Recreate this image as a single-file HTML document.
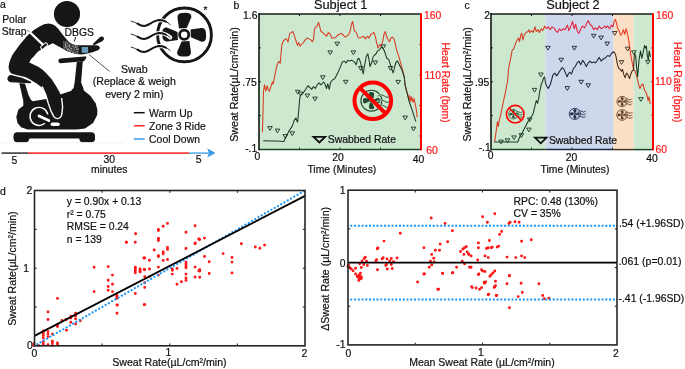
<!DOCTYPE html>
<html><head><meta charset="utf-8"><style>
html,body{margin:0;padding:0;background:#fff;}
svg{display:block;will-change:transform;}
.t{font-family:"Liberation Sans",sans-serif;font-size:10.4px;fill:#111;stroke:#111;stroke-width:0.2px;}
.r{font-family:"Liberation Sans",sans-serif;font-size:10.4px;fill:#ff1a1a;stroke:#ff1a1a;stroke-width:0.2px;}
</style></head><body>
<svg width="685" height="369" viewBox="0 0 685 369">
<defs>
<pattern id="spk" width="10" height="10" patternUnits="userSpaceOnUse"><rect width="10" height="10" fill="#3c3c3c"/><rect x="2.4" y="5.4" width="0.8" height="0.8" fill="#bbbbbb"/><rect x="9.2" y="4.7" width="0.8" height="0.8" fill="#999"/><rect x="0.7" y="0.1" width="0.8" height="0.8" fill="#f4f4f4"/><rect x="2.6" y="2.3" width="0.8" height="0.8" fill="#f4f4f4"/><rect x="5.4" y="5.5" width="0.8" height="0.8" fill="#f4f4f4"/><rect x="6.4" y="1.5" width="0.8" height="0.8" fill="#cfcfcf"/><rect x="8.7" y="5.2" width="0.8" height="0.8" fill="#e8e8e8"/><rect x="6.7" y="0.6" width="0.8" height="0.8" fill="#999"/><rect x="0.4" y="7.8" width="0.8" height="0.8" fill="#bbbbbb"/><rect x="4.7" y="7.2" width="0.8" height="0.8" fill="#f4f4f4"/><rect x="7.1" y="9.2" width="0.8" height="0.8" fill="#f4f4f4"/><rect x="7.3" y="5.8" width="0.8" height="0.8" fill="#cfcfcf"/><rect x="8.8" y="1.0" width="0.8" height="0.8" fill="#cfcfcf"/><rect x="4.9" y="2.6" width="0.8" height="0.8" fill="#f4f4f4"/><rect x="7.8" y="8.6" width="0.8" height="0.8" fill="#f4f4f4"/><rect x="5.1" y="3.9" width="0.8" height="0.8" fill="#bbbbbb"/><rect x="5.3" y="4.1" width="0.8" height="0.8" fill="#cfcfcf"/><rect x="9.0" y="6.8" width="0.8" height="0.8" fill="#e8e8e8"/><rect x="8.6" y="9.9" width="0.8" height="0.8" fill="#cfcfcf"/><rect x="7.0" y="3.3" width="0.8" height="0.8" fill="#999"/><rect x="9.0" y="5.7" width="0.8" height="0.8" fill="#cfcfcf"/><rect x="6.3" y="9.9" width="0.8" height="0.8" fill="#bbbbbb"/><rect x="2.8" y="0.6" width="0.8" height="0.8" fill="#f4f4f4"/><rect x="0.9" y="8.0" width="0.8" height="0.8" fill="#f4f4f4"/><rect x="9.0" y="0.2" width="0.8" height="0.8" fill="#f4f4f4"/><rect x="7.7" y="8.7" width="0.8" height="0.8" fill="#e8e8e8"/><rect x="6.0" y="7.6" width="0.8" height="0.8" fill="#f4f4f4"/><rect x="7.2" y="3.3" width="0.8" height="0.8" fill="#bbbbbb"/><rect x="5.1" y="10.0" width="0.8" height="0.8" fill="#bbbbbb"/><rect x="0.1" y="1.1" width="0.8" height="0.8" fill="#999"/><rect x="0.3" y="2.0" width="0.8" height="0.8" fill="#f4f4f4"/><rect x="2.9" y="2.6" width="0.8" height="0.8" fill="#e8e8e8"/><rect x="9.8" y="3.4" width="0.8" height="0.8" fill="#bbbbbb"/><rect x="9.6" y="9.0" width="0.8" height="0.8" fill="#f4f4f4"/><rect x="3.8" y="8.7" width="0.8" height="0.8" fill="#f4f4f4"/><rect x="6.4" y="6.0" width="0.8" height="0.8" fill="#999"/><rect x="1.0" y="9.7" width="0.8" height="0.8" fill="#999"/><rect x="2.7" y="6.3" width="0.8" height="0.8" fill="#cfcfcf"/><rect x="9.4" y="4.4" width="0.8" height="0.8" fill="#bbbbbb"/><rect x="5.2" y="5.5" width="0.8" height="0.8" fill="#e8e8e8"/></pattern>
<mask id="fanmask" maskUnits="userSpaceOnUse" x="-60" y="-40" width="100" height="80"><rect x="-60" y="-40" width="100" height="80" fill="#fff"/><path d="M-53.3,-13.8 C-48.5,-12.9 -44.5,-8.9 -40.3,-8.9 C-35.5,-8.9 -31.5,-14.9 -24.8,-14.9 C-20.5,-14.7 -17.0,-12.9 -14.3,-10.3 M-53.3,-0.8 C-48.5,0.1 -44.5,4.1 -40.3,4.1 C-35.5,4.1 -31.5,-1.9 -24.8,-1.9 C-20.5,-1.7 -17.0,0.1 -14.3,2.7 M-53.3,12.2 C-48.5,13.1 -44.5,17.1 -40.3,17.1 C-35.5,17.1 -31.5,11.1 -24.8,11.1 C-20.5,11.3 -17.0,13.1 -14.3,15.7" stroke="#000" stroke-width="4.2" fill="none" stroke-linecap="round"/></mask>
<g id="fanG">
<g mask="url(#fanmask)">
<circle r="26.9" fill="none" stroke="currentColor" stroke-width="2.9"/>
<g transform="translate(-0.3 -0.2)" fill="currentColor">
<path d="M-5.2,-6.3 L-6.7,-16.8 Q-7.1,-21.2 -2.6,-21.7 L2.6,-21.9 Q7.4,-21.6 7.1,-17.4 L2.6,-6.7 Z"/><path d="M-5.2,-6.3 L-6.7,-16.8 Q-7.1,-21.2 -2.6,-21.7 L2.6,-21.9 Q7.4,-21.6 7.1,-17.4 L2.6,-6.7 Z" transform="rotate(90)"/><path d="M-5.2,-6.3 L-6.7,-16.8 Q-7.1,-21.2 -2.6,-21.7 L2.6,-21.9 Q7.4,-21.6 7.1,-17.4 L2.6,-6.7 Z" transform="rotate(180)"/><path d="M-5.2,-6.3 L-6.7,-16.8 Q-7.1,-21.2 -2.6,-21.7 L2.6,-21.9 Q7.4,-21.6 7.1,-17.4 L2.6,-6.7 Z" transform="rotate(270)"/>
<circle r="4.6" fill="none" stroke="currentColor" stroke-width="2.8"/>
</g>
</g>
<path d="M-53.3,-13.8 C-48.5,-12.9 -44.5,-8.9 -40.3,-8.9 C-35.5,-8.9 -31.5,-14.9 -24.8,-14.9 C-20.5,-14.7 -17.0,-12.9 -14.3,-10.3 M-53.3,-0.8 C-48.5,0.1 -44.5,4.1 -40.3,4.1 C-35.5,4.1 -31.5,-1.9 -24.8,-1.9 C-20.5,-1.7 -17.0,0.1 -14.3,2.7 M-53.3,12.2 C-48.5,13.1 -44.5,17.1 -40.3,17.1 C-35.5,17.1 -31.5,11.1 -24.8,11.1 C-20.5,11.3 -17.0,13.1 -14.3,15.7" fill="none" stroke="currentColor" stroke-width="0.9" stroke-linecap="round"/>
<path d="M-47.0,-11.3 C-44.0,-9.3 -42.5,-8.9 -40.3,-8.9 C-35.5,-8.9 -31.5,-14.9 -24.8,-14.9 C-22.0,-14.8 -20.0,-14.1 -18.5,-13.1 M-47.0,1.7 C-44.0,3.7 -42.5,4.1 -40.3,4.1 C-35.5,4.1 -31.5,-1.9 -24.8,-1.9 C-22.0,-1.8 -20.0,-1.1 -18.5,-0.1 M-47.0,14.7 C-44.0,16.7 -42.5,17.1 -40.3,17.1 C-35.5,17.1 -31.5,11.1 -24.8,11.1 C-22.0,11.2 -20.0,11.9 -18.5,12.9" fill="none" stroke="currentColor" stroke-width="1.9" stroke-linecap="round"/>
</g>
<g id="fanS">
<g mask="url(#fanmask)">
<circle r="26.9" fill="none" stroke="currentColor" stroke-width="4.2"/>
<g transform="translate(-0.3 -0.2)" fill="currentColor">
<path stroke="currentColor" stroke-width="1.2" d="M-5.2,-6.3 L-6.7,-16.8 Q-7.1,-21.2 -2.6,-21.7 L2.6,-21.9 Q7.4,-21.6 7.1,-17.4 L2.6,-6.7 Z"/><path stroke="currentColor" stroke-width="1.2" d="M-5.2,-6.3 L-6.7,-16.8 Q-7.1,-21.2 -2.6,-21.7 L2.6,-21.9 Q7.4,-21.6 7.1,-17.4 L2.6,-6.7 Z" transform="rotate(90)"/><path stroke="currentColor" stroke-width="1.2" d="M-5.2,-6.3 L-6.7,-16.8 Q-7.1,-21.2 -2.6,-21.7 L2.6,-21.9 Q7.4,-21.6 7.1,-17.4 L2.6,-6.7 Z" transform="rotate(180)"/><path stroke="currentColor" stroke-width="1.2" d="M-5.2,-6.3 L-6.7,-16.8 Q-7.1,-21.2 -2.6,-21.7 L2.6,-21.9 Q7.4,-21.6 7.1,-17.4 L2.6,-6.7 Z" transform="rotate(270)"/>
<circle r="4.6" fill="none" stroke="currentColor" stroke-width="4"/>
</g>
</g>
<path d="M-53.3,-13.8 C-48.5,-12.9 -44.5,-8.9 -40.3,-8.9 C-35.5,-8.9 -31.5,-14.9 -24.8,-14.9 C-20.5,-14.7 -17.0,-12.9 -14.3,-10.3 M-53.3,-0.8 C-48.5,0.1 -44.5,4.1 -40.3,4.1 C-35.5,4.1 -31.5,-1.9 -24.8,-1.9 C-20.5,-1.7 -17.0,0.1 -14.3,2.7 M-53.3,12.2 C-48.5,13.1 -44.5,17.1 -40.3,17.1 C-35.5,17.1 -31.5,11.1 -24.8,11.1 C-20.5,11.3 -17.0,13.1 -14.3,15.7" fill="none" stroke="currentColor" stroke-width="2" stroke-linecap="round"/>
<path d="M-47.0,-11.3 C-44.0,-9.3 -42.5,-8.9 -40.3,-8.9 C-35.5,-8.9 -31.5,-14.9 -24.8,-14.9 C-22.0,-14.8 -20.0,-14.1 -18.5,-13.1 M-47.0,1.7 C-44.0,3.7 -42.5,4.1 -40.3,4.1 C-35.5,4.1 -31.5,-1.9 -24.8,-1.9 C-22.0,-1.8 -20.0,-1.1 -18.5,-0.1 M-47.0,14.7 C-44.0,16.7 -42.5,17.1 -40.3,17.1 C-35.5,17.1 -31.5,11.1 -24.8,11.1 C-22.0,11.2 -20.0,11.9 -18.5,12.9" fill="none" stroke="currentColor" stroke-width="3" stroke-linecap="round"/>
</g>
</defs>
<rect width="685" height="369" fill="#fff"/>
<!-- PANEL A -->
<text x="0" y="7.6" class="t">a</text>
<text x="2.2" y="23" class="t">Polar</text>
<text x="1.8" y="34.7" class="t">Strap</text>
<text x="64.6" y="35.7" class="t">DBGS</text>
<line x1="75.7" y1="37" x2="74.3" y2="41.6" stroke="#222" stroke-width="1"/>
<!-- head -->
<circle cx="67" cy="14.1" r="13.1" fill="#161616"/>
<!-- housing (flywheel) -->
<path fill="#161616" d="M19,82 L24.5,82 L28.5,95 L31,100 L33,101.3 L46,99.1 L61,94.2 L70.8,91 L73.6,88 L74.6,82.6 L76.8,62 L82.8,61 L81.1,82.6 L83.3,88 L83.8,90.4 L90.4,95.8 L95.8,103.4 L97.4,110 L97.2,115 L93.1,123.1 L85,128.4 L76.8,129.6 L27.6,129.6 L21.1,127.2 L17.5,123.1 L16.3,117.1 L18.4,109.5 L23.3,105.7 L23.3,100.8 Z"/>
<!-- handlebar horizontal bar -->
<path fill="#161616" d="M60.5,58.4 L84.5,56.4 Q87,56 86.2,58 L84,61.2 L60.5,63.2 Q58.3,63.2 58.3,60.8 Q58.3,58.5 60.5,58.4 Z"/>
<!-- grip -->
<path fill="#161616" d="M92.6,44.2 L99.5,37.4 Q102,35.5 103.8,37.5 Q104.8,39.5 102.2,41.2 L94,45.2 Z"/>
<!-- seat -->
<path fill="#161616" stroke="#fff" stroke-width="1.1" paint-order="stroke" d="M8.5,76.2 Q9.5,74.6 12,75.2 L22,77.8 L31.5,82 L30.5,83.2 L11,82.2 Q7.2,81.6 7.4,78.6 Q7.6,77.2 8.5,76.2 Z"/>
<!-- body: torso + leg -->
<path fill="#161616" d="M48.4,23.6 Q44,23.6 40,26.2 Q33,29.5 27,36 Q19,45 13,54 Q9,61 8.6,67 Q8.8,72 12,73.8 Q16,75 21,76 L25,77 Q29,78.5 32.5,81 Q38,84 41.9,87.5 L44.3,91.5 L46,95.5 L48.3,103.4 L51,111 L53.7,116.4 Q55.5,118.6 57.5,118.4 Q60.5,118 61.6,114.6 L62.4,106.7 L61.3,97 Q60,92 56,86 Q52.5,79 46.3,73.2 Q42.5,69.4 38.7,67 L29.3,62.6 L30.5,60 Q31.8,57.6 33.3,56.9 Q37,51.5 41,49.5 L49,45 L52.8,43.3 L64.7,49.8 Q70,52.8 76,54 L81.7,54.4 Q87.6,53.8 92.5,52.2 L98,50.3 Q100.2,49 99.8,47.2 Q99,45.4 96.3,45.2 L76.3,45.2 Q71,44.5 68,41 L62.5,34.5 Q58.5,28.5 54.9,25.6 Q51.5,23.6 48.4,23.6 Z"/>
<!-- white outline of shin (left/bottom/right) -->
<path fill="none" stroke="#fff" stroke-width="1.4" d="M42.2,86.5 L44.3,91.5 L46,95.5 L48.3,103.4 L51,111 L53.7,116.4 Q55.5,118.8 57.5,118.6 Q60.8,118.2 61.8,114.6 L62.6,106.7 L61.6,98"/>
<!-- crank ring -->
<path fill="none" stroke="#fff" stroke-width="1.45" d="M47.8,114.4 A9,9 0 1 0 44.8,123.3"/>
<line x1="39" y1="116" x2="48.8" y2="120.6" stroke="#fff" stroke-width="2.8" stroke-linecap="round"/>
<rect x="50.6" y="122.4" width="9.2" height="3.6" rx="1.8" fill="#fff"/>
<!-- polar strap -->
<line x1="27" y1="30" x2="30" y2="32.6" stroke="#555" stroke-width="0.8"/>
<line x1="29.6" y1="32" x2="43.6" y2="45.4" stroke="#fff" stroke-width="2.3"/>
<rect x="40.3" y="44.4" width="7.6" height="3.2" rx="1" fill="#161616" stroke="#fff" stroke-width="1" transform="rotate(-40 44.1 46)"/>
<!-- DBGS patch -->
<path fill="url(#spk)" d="M63.5,40.5 L68,41.5 L72,44.6 L78.5,45.2 L79,54.2 L76,54 Q70,52.8 65,50.2 L63,48.6 Z"/>
<rect x="81.7" y="47" width="6.4" height="5.8" fill="#6c9cbf"/>
<line x1="89" y1="54.6" x2="109.5" y2="71.4" stroke="#222" stroke-width="0.8"/>
<!-- base -->
<path fill="#161616" d="M16.5,132.2 L92,132.2 Q95,132.6 95,136 L95,139.5 Q94.5,142.2 91.5,142.2 L82.5,142.2 Q79.5,142.2 79.3,138.6 L29.3,138.6 Q29,142.2 26,142.2 L16.5,142.2 Q13.4,142 13.4,137.2 Q13.4,132.4 16.5,132.2 Z"/>
<line x1="0" y1="142.8" x2="124" y2="142.8" stroke="#f0f0f0" stroke-width="0.8"/>
<!-- fan -->
<use href="#fanG" transform="translate(184.5 34.9)" style="color:#161616"/>
<text x="203.6" y="14.2" class="t" style="font-size:10px">*</text>
<!-- swab text -->
<g style="font-size:10.6px"><text x="134.3" y="72.9" class="t" text-anchor="middle" style="font-size:10.6px">Swab</text>
<text x="134.3" y="85.4" class="t" text-anchor="middle" style="font-size:10.6px">(Replace &amp; weigh</text>
<text x="134.3" y="98" class="t" text-anchor="middle" style="font-size:10.6px">every 2 min)</text></g>
<!-- legend -->
<line x1="133.8" y1="112.7" x2="144.7" y2="112.7" stroke="#111" stroke-width="1.5"/>
<line x1="133.8" y1="125.8" x2="144.7" y2="125.8" stroke="#ff2a2a" stroke-width="1.5"/>
<line x1="133.8" y1="139" x2="144.7" y2="139" stroke="#3b9be8" stroke-width="1.5"/>
<text x="149.1" y="116.8" class="t">Warm Up</text>
<text x="149.1" y="129.9" class="t">Zone 3 Ride</text>
<text x="149.1" y="143.1" class="t">Cool Down</text>
<!-- timeline -->
<line x1="1.5" y1="153.1" x2="28" y2="153.1" stroke="#3a3a3a" stroke-width="1.6"/>
<line x1="28" y1="153.1" x2="189" y2="153.1" stroke="#ff3b3b" stroke-width="1.6"/>
<line x1="189" y1="153.1" x2="209" y2="153.1" stroke="#5aaeea" stroke-width="1.6"/>
<path d="M215.5,152.9 L207.2,148.2 L209,152.9 L207.2,157.6 Z" fill="#3a9ae8"/>
<text x="14.3" y="163.6" class="t" text-anchor="middle">5</text>
<text x="109.3" y="163.4" class="t" text-anchor="middle">30</text>
<text x="109.3" y="172.6" class="t" text-anchor="middle">minutes</text>
<text x="198.7" y="163.2" class="t" text-anchor="middle">5</text>

<rect x="259" y="14" width="162" height="135.6" fill="#cce8cf"/>
<use href="#fanG" transform="translate(371.4 100.7) scale(-0.3887 0.3887)" style="color:#1f4a30"/>
<circle cx="372.8" cy="100.8" r="18.3" fill="none" stroke="#ff0000" stroke-width="4"/>
<line x1="359.9" y1="87.9" x2="385.7" y2="113.7" stroke="#ff0000" stroke-width="4"/>
<polyline points="262.4,132.2 262.8,120.0 263.5,91.2 264.5,84.8 265.8,91.2 267.2,85.7 268.2,89.4 269.4,91.2 270.9,86.6 272.4,82.0 273.2,84.0 275.0,74.6 277.0,65.1 278.8,61.3 280.3,63.2 281.7,45.3 283.6,40.5 286.4,38.6 288.0,42.0 289.8,33.0 291.1,33.0 292.7,31.4 294.4,35.8 295.9,40.5 297.5,45.4 298.8,42.6 300.1,46.3 301.5,44.5 303.4,42.6 305.2,39.9 307.1,38.0 308.9,38.9 310.8,39.9 312.3,41.7 313.5,39.9 314.5,28.8 315.9,26.9 317.2,26.0 318.5,22.3 319.6,26.0 320.9,31.5 322.8,32.5 324.6,34.3 326.5,36.2 328.3,32.5 330.2,34.3 332.0,38.0 333.9,38.0 335.8,37.1 337.7,35.2 339.5,34.3 341.4,33.4 343.2,35.2 345.1,37.1 346.9,36.2 348.8,34.3 350.3,30.6 351.5,24.2 352.5,21.4 353.4,25.1 354.3,30.6 356.2,32.5 358.0,37.1 359.9,38.0 361.7,37.1 363.5,36.2 365.4,38.9 367.2,36.2 369.1,38.0 370.9,34.3 372.8,33.4 373.8,32.5 375.3,36.1 376.6,42.6 378.1,48.1 379.7,44.4 381.2,46.3 382.7,41.7 384.0,34.3 385.3,31.5 386.8,37.1 388.2,39.8 389.5,41.7 391.0,38.0 392.3,37.1 394.1,38.9 395.6,45.4 396.9,50.9 398.8,56.4 400.6,62.9 402.4,69.4 404.3,76.7 404.8,82.9 406.1,89.4 408.0,94.9 408.9,100.5 409.8,95.8 410.7,101.4 411.7,96.8 413.0,102.3 414.1,98.6 415.4,105.1 416.3,109.7 417.2,117.1" fill="none" stroke="#d83a22" stroke-width="1.05" stroke-linejoin="round"/>
<polyline points="263.2,140.7 270.0,141.0 276.5,141.1 283.9,141.5 285.7,137.4 288.5,131.9 290.3,129.1 292.2,126.3 294.0,120.8 295.9,118.0 297.2,121.7 297.6,122.2 298.8,109.7 299.7,98.6 300.6,94.9 302.5,94.0 304.3,91.2 306.2,88.5 308.0,85.7 309.9,87.5 311.7,89.4 313.5,86.6 315.4,88.5 317.2,84.8 319.1,82.9 320.9,84.8 323.7,82.0 325.0,84.0 326.5,88.5 327.8,83.8 329.2,89.4 330.7,82.0 332.5,80.0 334.9,78.6 337.7,73.1 340.5,66.6 342.3,62.0 344.2,61.1 346.0,62.9 347.9,60.2 349.7,61.1 351.5,60.2 353.4,61.1 355.2,62.9 356.2,64.8 357.6,59.2 358.9,58.3 360.4,62.0 361.7,67.6 363.2,74.0 364.5,65.7 366.3,56.5 367.8,53.7 369.1,60.2 370.0,66.6 371.9,62.0 373.2,56.5 374.2,55.5 376.1,53.7 377.5,50.9 379.4,50.0 381.2,47.2 382.7,48.1 384.0,50.0 385.3,53.7 386.8,58.3 388.6,59.2 390.1,63.8 391.9,69.4 393.2,73.0 394.5,67.5 396.0,62.0 397.5,61.0 399.3,64.7 401.2,68.4 403.0,73.0 404.3,77.7 405.2,85.7 407.1,93.1 408.9,100.5 410.7,106.0 412.6,111.5 414.4,117.1 415.9,121.7" fill="none" stroke="#1b3a22" stroke-width="1.05" stroke-linejoin="round"/>
<path d="M267.7,126.6 L272.3,126.6 L270.0,130.4 Z" fill="none" stroke="#1a3320" stroke-width="0.9"/>
<path d="M275.1,129.1 L279.7,129.1 L277.4,132.9 Z" fill="none" stroke="#1a3320" stroke-width="0.9"/>
<path d="M283.0,134.6 L287.6,134.6 L285.3,138.4 Z" fill="none" stroke="#1a3320" stroke-width="0.9"/>
<path d="M289.9,131.8 L294.5,131.8 L292.2,135.6 Z" fill="none" stroke="#1a3320" stroke-width="0.9"/>
<path d="M295.4,90.3 L300.0,90.3 L297.7,94.1 Z" fill="none" stroke="#1a3320" stroke-width="0.9"/>
<path d="M298.3,92.1 L302.9,92.1 L300.6,95.9 Z" fill="none" stroke="#1a3320" stroke-width="0.9"/>
<path d="M305.1,94.0 L309.7,94.0 L307.4,97.8 Z" fill="none" stroke="#1a3320" stroke-width="0.9"/>
<path d="M312.7,97.1 L317.3,97.1 L315.0,100.9 Z" fill="none" stroke="#1a3320" stroke-width="0.9"/>
<path d="M320.5,75.8 L325.1,75.8 L322.8,79.6 Z" fill="none" stroke="#1a3320" stroke-width="0.9"/>
<path d="M327.9,50.9 L332.5,50.9 L330.2,54.7 Z" fill="none" stroke="#1a3320" stroke-width="0.9"/>
<path d="M334.9,42.2 L339.5,42.2 L337.2,46.0 Z" fill="none" stroke="#1a3320" stroke-width="0.9"/>
<path d="M343.4,80.3 L348.0,80.3 L345.7,84.1 Z" fill="none" stroke="#1a3320" stroke-width="0.9"/>
<path d="M351.1,50.9 L355.7,50.9 L353.4,54.7 Z" fill="none" stroke="#1a3320" stroke-width="0.9"/>
<path d="M358.5,66.6 L363.1,66.6 L360.8,70.4 Z" fill="none" stroke="#1a3320" stroke-width="0.9"/>
<path d="M373.0,61.0 L377.6,61.0 L375.3,64.8 Z" fill="none" stroke="#1a3320" stroke-width="0.9"/>
<path d="M381.1,44.9 L385.7,44.9 L383.4,48.7 Z" fill="none" stroke="#1a3320" stroke-width="0.9"/>
<path d="M388.2,66.5 L392.8,66.5 L390.5,70.3 Z" fill="none" stroke="#1a3320" stroke-width="0.9"/>
<path d="M395.9,80.4 L400.5,80.4 L398.2,84.2 Z" fill="none" stroke="#1a3320" stroke-width="0.9"/>
<path d="M402.9,116.1 L407.5,116.1 L405.2,119.9 Z" fill="none" stroke="#1a3320" stroke-width="0.9"/>
<path d="M411.2,127.1 L415.8,127.1 L413.5,130.9 Z" fill="none" stroke="#1a3320" stroke-width="0.9"/>
<line x1="259" y1="47.9" x2="261" y2="47.9" stroke="#1a3320" stroke-width="1"/>
<line x1="259" y1="81.75" x2="261" y2="81.75" stroke="#1a3320" stroke-width="1"/>
<line x1="259" y1="115.6" x2="261" y2="115.6" stroke="#1a3320" stroke-width="1"/>
<line x1="299.5" y1="14" x2="299.5" y2="16" stroke="#1a1a1a" stroke-width="1"/>
<line x1="299.5" y1="149.6" x2="299.5" y2="147.6" stroke="#1a3320" stroke-width="1"/>
<line x1="340" y1="14" x2="340" y2="16" stroke="#1a1a1a" stroke-width="1"/>
<line x1="340" y1="149.6" x2="340" y2="147.6" stroke="#1a3320" stroke-width="1"/>
<line x1="380.5" y1="14" x2="380.5" y2="16" stroke="#1a1a1a" stroke-width="1"/>
<line x1="380.5" y1="149.6" x2="380.5" y2="147.6" stroke="#1a3320" stroke-width="1"/>
<line x1="421" y1="44.6" x2="419" y2="44.6" stroke="#e02020" stroke-width="1"/>
<line x1="421" y1="75.2" x2="419" y2="75.2" stroke="#e02020" stroke-width="1"/>
<line x1="421" y1="105.5" x2="419" y2="105.5" stroke="#e02020" stroke-width="1"/>
<line x1="421" y1="135.9" x2="419" y2="135.9" stroke="#e02020" stroke-width="1"/>
<line x1="258.25" y1="14" x2="421" y2="14" stroke="#1a1a1a" stroke-width="1.5"/>
<line x1="259" y1="149.6" x2="421" y2="149.6" stroke="#1e4326" stroke-width="1.5"/>
<line x1="259" y1="13.25" x2="259" y2="150.35" stroke="#0d1a10" stroke-width="1.6"/>
<line x1="421" y1="13.25" x2="421" y2="150.35" stroke="#ff0000" stroke-width="2"/>
<path d="M313.5,136.8 L325.2,136.8 L319.35,142.4 Z" fill="none" stroke="#111" stroke-width="1.8"/>
<text x="327.8" y="143" class="t">Swabbed Rate</text>
<text x="233.5" y="9.3" class="t">b</text>
<text x="340.6" y="9.3" class="t" style="font-size:12.8px" text-anchor="middle">Subject 1</text>
<text x="257.5" y="19" class="t" text-anchor="end">1.6</text>
<text x="256.8" y="85.6" class="t" text-anchor="end">.75</text>
<text x="257.3" y="152" class="t" text-anchor="end">-.1</text>
<text x="257.3" y="159.8" class="t" text-anchor="middle">0</text>
<text x="338.1" y="160.9" class="t" text-anchor="middle">20</text>
<text x="418.5" y="162.7" class="t" text-anchor="middle">40</text>
<text x="307.4" y="172.5" class="t">Time (Minutes)</text>
<text x="424" y="18.8" class="r">160</text>
<text x="424.4" y="79" class="r">110</text>
<text x="426.2" y="154.4" class="r">60</text>
<text transform="translate(441.6 82.6) rotate(90)" class="r" text-anchor="middle">Heart Rate (bpm)</text>
<text transform="translate(238.2 84.5) rotate(-90)" class="t" text-anchor="middle" style="font-size:10.6px">Sweat Rate(µL/cm²/min)</text>
<rect x="491" y="14" width="54.39999999999998" height="135.6" fill="#cce8cf"/>
<rect x="545.4" y="14" width="68.30000000000007" height="135.6" fill="#cdd8ec"/>
<rect x="613.7" y="14" width="20.0" height="135.6" fill="#fbdfc5"/>
<rect x="633.7" y="14" width="19.299999999999955" height="135.6" fill="#cce8cf"/>
<use href="#fanS" transform="translate(513.4 114.2) scale(-0.1767 0.1767)" style="color:#1f4a30"/>
<circle cx="515.2" cy="114.2" r="8.8" fill="none" stroke="#ff0000" stroke-width="1.6"/>
<line x1="509.0" y1="108.0" x2="521.4" y2="120.4" stroke="#ff0000" stroke-width="1.6"/>
<use href="#fanS" transform="translate(574.85 113.9) scale(-0.2085 0.2085)" style="color:#1e2a48"/>
<use href="#fanS" transform="translate(622.1 101.5) scale(-0.1908 0.1908)" style="color:#5a3a22"/>
<use href="#fanS" transform="translate(622.1 115) scale(-0.1979 0.1979)" style="color:#5a3a22"/>
<polyline points="494.6,142.0 495.5,135.6 496.5,129.1 497.4,121.7 498.3,126.3 499.2,120.8 500.2,117.1 501.4,111.5 502.9,104.2 504.4,96.8 505.7,91.2 506.6,85.7 507.5,82.0 508.5,69.4 509.9,62.0 511.2,55.6 512.2,50.0 513.6,49.1 514.9,45.4 515.9,42.6 517.3,39.9 518.6,38.0 519.5,41.7 521.0,34.3 521.8,33.4 522.9,39.9 524.2,35.2 526.0,32.5 527.9,31.5 528.8,29.7 529.7,32.5 531.7,30.6 533.2,32.5 535.0,26.9 536.3,31.5 538.2,29.7 539.4,32.5 541.3,28.8 542.8,30.6 544.6,26.0 546.5,28.8" fill="none" stroke="#d83a22" stroke-width="1.05" stroke-linejoin="round"/>
<polyline points="546.5,28.8 548.3,26.9 550.2,29.7 552.0,26.9 553.9,27.9 555.7,30.6 557.5,32.5 559.4,28.8 561.2,30.6 563.1,28.8 564.9,29.7 566.8,26.0 567.5,25.1 568.8,30.6 570.6,26.9 572.5,21.4 574.3,28.8 575.6,24.2 577.4,31.5 578.9,33.4 580.8,28.8 582.6,26.0 584.5,27.9 586.3,24.2 588.2,20.5 590.0,24.2 591.9,26.0 593.7,29.7 595.5,27.9 597.4,29.7 599.2,26.0 601.1,28.8 602.9,27.9 604.8,26.0 605.8,27.8 607.7,26.0 609.5,28.8 611.4,25.1 612.9,26.9 614.1,21.4" fill="none" stroke="#e0203c" stroke-width="1.05" stroke-linejoin="round"/>
<polyline points="614.1,21.4 615.4,19.5 616.5,23.2 617.8,28.8 619.1,30.6 620.6,35.2 622.1,33.4 623.4,29.7 624.7,34.3 626.1,28.8 627.6,34.3 628.9,41.7 629.8,49.1 630.8,54.6 631.7,60.1 632.6,64.7 633.5,69.4 635.0,71.2" fill="none" stroke="#e63a1e" stroke-width="1.05" stroke-linejoin="round"/>
<polyline points="635.0,71.2 636.3,74.9 637.2,78.6 638.1,82.0 639.0,86.0 640.0,88.5 641.5,85.0 643.0,84.0 644.5,90.0 646.0,92.5 647.2,96.0 648.0,100.5 649.0,96.8 650.2,104.0" fill="none" stroke="#d83a22" stroke-width="1.05" stroke-linejoin="round"/>
<polyline points="494.6,142.0 505.0,142.0 517.7,142.0 519.2,138.3 520.5,135.6 522.3,132.8 524.2,129.1 526.0,125.4 527.9,121.7 529.7,118.9 531.7,116.2 533.2,113.4 534.5,107.9 535.4,104.2 536.3,100.5 537.6,103.2 538.7,98.6 539.4,93.1 540.6,87.5 541.3,83.8 542.4,82.0 543.5,78.0 544.6,76.8 545.5,82.9" fill="none" stroke="#1b3a22" stroke-width="1.05" stroke-linejoin="round"/>
<polyline points="545.5,82.9 546.5,85.7 548.3,88.5 550.2,84.8 551.6,80.0 552.9,74.9 554.8,73.1 556.6,75.9 558.5,73.1 560.3,70.3 562.2,67.6 564.0,69.4 565.9,74.0 567.2,76.8 567.8,74.9 569.7,72.2 571.5,74.0 573.4,68.5 575.2,66.6 577.1,62.9 578.9,61.1 580.8,64.8 582.6,60.2 584.5,62.9 586.3,66.6 588.2,62.9 590.0,61.1 591.9,62.9 593.7,62.0 595.5,62.9 597.4,60.2 599.2,57.4 601.1,61.1 602.9,59.2 604.8,58.3 605.8,57.4 607.7,55.5 609.5,56.4 611.4,53.7 613.2,51.8 614.7,52.7" fill="none" stroke="#1b2438" stroke-width="1.05" stroke-linejoin="round"/>
<polyline points="614.7,52.7 616.0,56.4 617.3,63.8 618.8,68.4 620.2,69.4 621.5,71.2 622.5,69.4 623.9,74.9 625.2,77.7 626.5,73.0 628.0,74.9 629.5,78.6 630.8,74.0 632.0,71.2 633.5,70.0 634.4,52.7" fill="none" stroke="#3a2a18" stroke-width="1.05" stroke-linejoin="round"/>
<polyline points="634.4,52.7 635.7,56.4 636.8,69.4 637.6,76.7 639.0,60.1 640.5,50.9 641.8,58.3 643.1,52.7 644.6,45.4 645.5,48.1 646.4,46.3 647.4,56.4 648.3,60.1 649.2,50.9 650.5,57.0" fill="none" stroke="#1b3a22" stroke-width="1.05" stroke-linejoin="round"/>
<path d="M498.8,140.1 L503.4,140.1 L501.1,143.9 Z" fill="none" stroke="#1b3a22" stroke-width="0.9"/>
<path d="M505.2,138.8 L509.8,138.8 L507.5,142.6 Z" fill="none" stroke="#1b3a22" stroke-width="0.9"/>
<path d="M511.7,135.9 L516.3,135.9 L514.0,139.7 Z" fill="none" stroke="#1b3a22" stroke-width="0.9"/>
<path d="M519.1,133.7 L523.7,133.7 L521.4,137.5 Z" fill="none" stroke="#1b3a22" stroke-width="0.9"/>
<path d="M527.4,118.0 L532.0,118.0 L529.7,121.8 Z" fill="none" stroke="#1b3a22" stroke-width="0.9"/>
<path d="M526.6,128.1 L531.2,128.1 L528.9,131.9 Z" fill="none" stroke="#1b3a22" stroke-width="0.9"/>
<path d="M532.2,88.4 L536.8,88.4 L534.5,92.2 Z" fill="none" stroke="#1b3a22" stroke-width="0.9"/>
<path d="M538.6,73.0 L543.2,73.0 L540.9,76.8 Z" fill="none" stroke="#1b3a22" stroke-width="0.9"/>
<path d="M545.6,46.3 L550.2,46.3 L547.9,50.1 Z" fill="none" stroke="#1b2438" stroke-width="0.9"/>
<path d="M558.9,58.3 L563.5,58.3 L561.2,62.1 Z" fill="none" stroke="#1b2438" stroke-width="0.9"/>
<path d="M565.0,86.6 L569.6,86.6 L567.3,90.4 Z" fill="none" stroke="#1b2438" stroke-width="0.9"/>
<path d="M572.0,46.3 L576.6,46.3 L574.3,50.1 Z" fill="none" stroke="#1b2438" stroke-width="0.9"/>
<path d="M578.9,80.3 L583.5,80.3 L581.2,84.1 Z" fill="none" stroke="#1b2438" stroke-width="0.9"/>
<path d="M585.9,83.8 L590.5,83.8 L588.2,87.6 Z" fill="none" stroke="#1b2438" stroke-width="0.9"/>
<path d="M591.4,34.3 L596.0,34.3 L593.7,38.1 Z" fill="none" stroke="#1b2438" stroke-width="0.9"/>
<path d="M598.8,36.1 L603.4,36.1 L601.1,39.9 Z" fill="none" stroke="#1b2438" stroke-width="0.9"/>
<path d="M604.9,42.1 L609.5,42.1 L607.2,45.9 Z" fill="none" stroke="#1b2438" stroke-width="0.9"/>
<path d="M612.4,31.5 L617.0,31.5 L614.7,35.3 Z" fill="none" stroke="#3a2a18" stroke-width="0.9"/>
<path d="M619.2,60.6 L623.8,60.6 L621.5,64.4 Z" fill="none" stroke="#3a2a18" stroke-width="0.9"/>
<path d="M625.3,47.2 L629.9,47.2 L627.6,51.0 Z" fill="none" stroke="#3a2a18" stroke-width="0.9"/>
<path d="M631.6,50.8 L636.2,50.8 L633.9,54.6 Z" fill="none" stroke="#1b3a22" stroke-width="0.9"/>
<path d="M645.6,60.4 L650.2,60.4 L647.9,64.2 Z" fill="none" stroke="#1b3a22" stroke-width="0.9"/>
<path d="M638.6,97.6 L643.2,97.6 L640.9,101.4 Z" fill="none" stroke="#1b3a22" stroke-width="0.9"/>
<line x1="491" y1="47.9" x2="493" y2="47.9" stroke="#1a3320" stroke-width="1"/>
<line x1="491" y1="81.75" x2="493" y2="81.75" stroke="#1a3320" stroke-width="1"/>
<line x1="491" y1="115.6" x2="493" y2="115.6" stroke="#1a3320" stroke-width="1"/>
<line x1="531.5" y1="14" x2="531.5" y2="16" stroke="#1a1a1a" stroke-width="1"/>
<line x1="531.5" y1="149.6" x2="531.5" y2="147.6" stroke="#1a3320" stroke-width="1"/>
<line x1="572" y1="14" x2="572" y2="16" stroke="#1a1a1a" stroke-width="1"/>
<line x1="572" y1="149.6" x2="572" y2="147.6" stroke="#1a3320" stroke-width="1"/>
<line x1="612.5" y1="14" x2="612.5" y2="16" stroke="#1a1a1a" stroke-width="1"/>
<line x1="612.5" y1="149.6" x2="612.5" y2="147.6" stroke="#1a3320" stroke-width="1"/>
<line x1="653" y1="47.8" x2="651" y2="47.8" stroke="#e02020" stroke-width="1"/>
<line x1="653" y1="81.6" x2="651" y2="81.6" stroke="#e02020" stroke-width="1"/>
<line x1="653" y1="115.2" x2="651" y2="115.2" stroke="#e02020" stroke-width="1"/>
<line x1="490.25" y1="14" x2="653" y2="14" stroke="#1a1a1a" stroke-width="1.5"/>
<line x1="491" y1="149.6" x2="545.4" y2="149.6" stroke="#1e4326" stroke-width="1.5"/>
<line x1="545.4" y1="149.6" x2="613.7" y2="149.6" stroke="#1e2a45" stroke-width="1.5"/>
<line x1="613.7" y1="149.6" x2="633.7" y2="149.6" stroke="#4a3420" stroke-width="1.5"/>
<line x1="633.7" y1="149.6" x2="653" y2="149.6" stroke="#1e4326" stroke-width="1.5"/>
<line x1="491" y1="13.25" x2="491" y2="150.35" stroke="#0d1a10" stroke-width="1.6"/>
<line x1="653" y1="13.25" x2="653" y2="150.35" stroke="#ff0000" stroke-width="2"/>
<path d="M535,137.6 L546.5,137.6 L540.75,143.3 Z" fill="none" stroke="#111" stroke-width="1.8"/>
<text x="548.9" y="144" class="t">Swabbed Rate</text>
<text x="464.6" y="8.8" class="t">c</text>
<text x="573" y="9.3" class="t" style="font-size:12.8px" text-anchor="middle">Subject 2</text>
<text x="490" y="18.8" class="t" text-anchor="end">2</text>
<text x="489.4" y="85.7" class="t" text-anchor="end">.95</text>
<text x="490.8" y="150.6" class="t" text-anchor="end">-.1</text>
<text x="490.6" y="159.4" class="t" text-anchor="middle">0</text>
<text x="571.6" y="160.6" class="t" text-anchor="middle">20</text>
<text x="652.1" y="161.8" class="t" text-anchor="middle">40</text>
<text x="540.6" y="172.5" class="t">Time (Minutes)</text>
<text x="655.9" y="18.8" class="r">160</text>
<text x="655.1" y="85.3" class="r">110</text>
<text x="655.6" y="153.3" class="r">60</text>
<text transform="translate(673.6 82.2) rotate(90)" class="r" text-anchor="middle">Heart Rate (bpm)</text>
<text transform="translate(471.4 84.4) rotate(-90)" class="t" text-anchor="middle" style="font-size:10.6px">Sweat Rate(µL/cm²/min)</text>
<circle cx="57.5" cy="298.4" r="0.85" fill="#ff6a6a" stroke="#ff1010" stroke-width="1.2"/>
<circle cx="48" cy="311.9" r="0.85" fill="#ff6a6a" stroke="#ff1010" stroke-width="1.2"/>
<circle cx="48" cy="319.5" r="0.85" fill="#ff6a6a" stroke="#ff1010" stroke-width="1.2"/>
<circle cx="61.9" cy="320.4" r="0.85" fill="#ff6a6a" stroke="#ff1010" stroke-width="1.2"/>
<circle cx="66.1" cy="319.5" r="0.85" fill="#ff6a6a" stroke="#ff1010" stroke-width="1.2"/>
<circle cx="70.8" cy="316.1" r="0.85" fill="#ff6a6a" stroke="#ff1010" stroke-width="1.2"/>
<circle cx="70.8" cy="318" r="0.85" fill="#ff6a6a" stroke="#ff1010" stroke-width="1.2"/>
<circle cx="70.8" cy="322.2" r="0.85" fill="#ff6a6a" stroke="#ff1010" stroke-width="1.2"/>
<circle cx="75.6" cy="313.2" r="0.85" fill="#ff6a6a" stroke="#ff1010" stroke-width="1.2"/>
<circle cx="75.6" cy="316.1" r="0.85" fill="#ff6a6a" stroke="#ff1010" stroke-width="1.2"/>
<circle cx="75.6" cy="318.9" r="0.85" fill="#ff6a6a" stroke="#ff1010" stroke-width="1.2"/>
<circle cx="75.6" cy="324" r="0.85" fill="#ff6a6a" stroke="#ff1010" stroke-width="1.2"/>
<circle cx="80.3" cy="320.8" r="0.85" fill="#ff6a6a" stroke="#ff1010" stroke-width="1.2"/>
<circle cx="57.5" cy="324.6" r="0.85" fill="#ff6a6a" stroke="#ff1010" stroke-width="1.2"/>
<circle cx="57.5" cy="326.5" r="0.85" fill="#ff6a6a" stroke="#ff1010" stroke-width="1.2"/>
<circle cx="66.5" cy="330.3" r="0.85" fill="#ff6a6a" stroke="#ff1010" stroke-width="1.2"/>
<circle cx="43.3" cy="330.9" r="0.85" fill="#ff6a6a" stroke="#ff1010" stroke-width="1.2"/>
<circle cx="43.3" cy="333.2" r="0.85" fill="#ff6a6a" stroke="#ff1010" stroke-width="1.2"/>
<circle cx="43.3" cy="335.4" r="0.85" fill="#ff6a6a" stroke="#ff1010" stroke-width="1.2"/>
<circle cx="43.3" cy="337.9" r="0.85" fill="#ff6a6a" stroke="#ff1010" stroke-width="1.2"/>
<circle cx="48" cy="331.6" r="0.85" fill="#ff6a6a" stroke="#ff1010" stroke-width="1.2"/>
<circle cx="48" cy="334.1" r="0.85" fill="#ff6a6a" stroke="#ff1010" stroke-width="1.2"/>
<circle cx="48" cy="336.6" r="0.85" fill="#ff6a6a" stroke="#ff1010" stroke-width="1.2"/>
<circle cx="52.4" cy="334.1" r="0.85" fill="#ff6a6a" stroke="#ff1010" stroke-width="1.2"/>
<circle cx="43.3" cy="341.7" r="0.85" fill="#ff6a6a" stroke="#ff1010" stroke-width="1.2"/>
<circle cx="43.3" cy="344.2" r="0.85" fill="#ff6a6a" stroke="#ff1010" stroke-width="1.2"/>
<circle cx="48" cy="344.6" r="0.85" fill="#ff6a6a" stroke="#ff1010" stroke-width="1.2"/>
<circle cx="52.4" cy="341.1" r="0.85" fill="#ff6a6a" stroke="#ff1010" stroke-width="1.2"/>
<circle cx="52.4" cy="343" r="0.85" fill="#ff6a6a" stroke="#ff1010" stroke-width="1.2"/>
<circle cx="52.4" cy="345.5" r="0.85" fill="#ff6a6a" stroke="#ff1010" stroke-width="1.2"/>
<circle cx="57.5" cy="343" r="0.85" fill="#ff6a6a" stroke="#ff1010" stroke-width="1.2"/>
<circle cx="57.5" cy="344.9" r="0.85" fill="#ff6a6a" stroke="#ff1010" stroke-width="1.2"/>
<circle cx="33.8" cy="343.6" r="0.85" fill="#ff6a6a" stroke="#ff1010" stroke-width="1.2"/>
<circle cx="33.8" cy="345.5" r="0.85" fill="#ff6a6a" stroke="#ff1010" stroke-width="1.2"/>
<circle cx="38.5" cy="345.5" r="0.85" fill="#ff6a6a" stroke="#ff1010" stroke-width="1.2"/>
<circle cx="126.4" cy="242.3" r="0.85" fill="#ff6a6a" stroke="#ff1010" stroke-width="1.2"/>
<circle cx="135.3" cy="242.3" r="0.85" fill="#ff6a6a" stroke="#ff1010" stroke-width="1.2"/>
<circle cx="143.9" cy="258" r="0.85" fill="#ff6a6a" stroke="#ff1010" stroke-width="1.2"/>
<circle cx="94.1" cy="267.2" r="0.85" fill="#ff6a6a" stroke="#ff1010" stroke-width="1.2"/>
<circle cx="108.2" cy="266.6" r="0.85" fill="#ff6a6a" stroke="#ff1010" stroke-width="1.2"/>
<circle cx="135.3" cy="267.2" r="0.85" fill="#ff6a6a" stroke="#ff1010" stroke-width="1.2"/>
<circle cx="135.3" cy="268.9" r="0.85" fill="#ff6a6a" stroke="#ff1010" stroke-width="1.2"/>
<circle cx="135.3" cy="270.8" r="0.85" fill="#ff6a6a" stroke="#ff1010" stroke-width="1.2"/>
<circle cx="135.3" cy="272.7" r="0.85" fill="#ff6a6a" stroke="#ff1010" stroke-width="1.2"/>
<circle cx="140.1" cy="270" r="0.85" fill="#ff6a6a" stroke="#ff1010" stroke-width="1.2"/>
<circle cx="140.1" cy="271.9" r="0.85" fill="#ff6a6a" stroke="#ff1010" stroke-width="1.2"/>
<circle cx="144.2" cy="269.4" r="0.85" fill="#ff6a6a" stroke="#ff1010" stroke-width="1.2"/>
<circle cx="112.5" cy="275.1" r="0.85" fill="#ff6a6a" stroke="#ff1010" stroke-width="1.2"/>
<circle cx="108.2" cy="280.3" r="0.85" fill="#ff6a6a" stroke="#ff1010" stroke-width="1.2"/>
<circle cx="112.5" cy="284.2" r="0.85" fill="#ff6a6a" stroke="#ff1010" stroke-width="1.2"/>
<circle cx="108.2" cy="286.5" r="0.85" fill="#ff6a6a" stroke="#ff1010" stroke-width="1.2"/>
<circle cx="108.2" cy="290.3" r="0.85" fill="#ff6a6a" stroke="#ff1010" stroke-width="1.2"/>
<circle cx="94.1" cy="291.6" r="0.85" fill="#ff6a6a" stroke="#ff1010" stroke-width="1.2"/>
<circle cx="112.5" cy="291.6" r="0.85" fill="#ff6a6a" stroke="#ff1010" stroke-width="1.2"/>
<circle cx="116.9" cy="295.4" r="0.85" fill="#ff6a6a" stroke="#ff1010" stroke-width="1.2"/>
<circle cx="116.9" cy="297.9" r="0.85" fill="#ff6a6a" stroke="#ff1010" stroke-width="1.2"/>
<circle cx="135.3" cy="293.5" r="0.85" fill="#ff6a6a" stroke="#ff1010" stroke-width="1.2"/>
<circle cx="117.3" cy="304.9" r="0.85" fill="#ff6a6a" stroke="#ff1010" stroke-width="1.2"/>
<circle cx="144.2" cy="304.6" r="0.85" fill="#ff6a6a" stroke="#ff1010" stroke-width="1.2"/>
<circle cx="167.5" cy="223.4" r="0.85" fill="#ff6a6a" stroke="#ff1010" stroke-width="1.2"/>
<circle cx="163.2" cy="226.3" r="0.85" fill="#ff6a6a" stroke="#ff1010" stroke-width="1.2"/>
<circle cx="158.4" cy="229.5" r="0.85" fill="#ff6a6a" stroke="#ff1010" stroke-width="1.2"/>
<circle cx="158.4" cy="230.4" r="0.85" fill="#ff6a6a" stroke="#ff1010" stroke-width="1.2"/>
<circle cx="195.1" cy="225.7" r="0.85" fill="#ff6a6a" stroke="#ff1010" stroke-width="1.2"/>
<circle cx="186" cy="232.3" r="0.85" fill="#ff6a6a" stroke="#ff1010" stroke-width="1.2"/>
<circle cx="158.4" cy="238.6" r="0.85" fill="#ff6a6a" stroke="#ff1010" stroke-width="1.2"/>
<circle cx="158.4" cy="240.5" r="0.85" fill="#ff6a6a" stroke="#ff1010" stroke-width="1.2"/>
<circle cx="198.9" cy="239" r="0.85" fill="#ff6a6a" stroke="#ff1010" stroke-width="1.2"/>
<circle cx="195.1" cy="243.7" r="0.85" fill="#ff6a6a" stroke="#ff1010" stroke-width="1.2"/>
<circle cx="167.5" cy="247.5" r="0.85" fill="#ff6a6a" stroke="#ff1010" stroke-width="1.2"/>
<circle cx="167.5" cy="249.4" r="0.85" fill="#ff6a6a" stroke="#ff1010" stroke-width="1.2"/>
<circle cx="186" cy="248.5" r="0.85" fill="#ff6a6a" stroke="#ff1010" stroke-width="1.2"/>
<circle cx="154.2" cy="250" r="0.85" fill="#ff6a6a" stroke="#ff1010" stroke-width="1.2"/>
<circle cx="163.2" cy="251.9" r="0.85" fill="#ff6a6a" stroke="#ff1010" stroke-width="1.2"/>
<circle cx="163.2" cy="253.8" r="0.85" fill="#ff6a6a" stroke="#ff1010" stroke-width="1.2"/>
<circle cx="158.4" cy="255.7" r="0.85" fill="#ff6a6a" stroke="#ff1010" stroke-width="1.2"/>
<circle cx="158.4" cy="256.5" r="0.85" fill="#ff6a6a" stroke="#ff1010" stroke-width="1.2"/>
<circle cx="144.7" cy="258" r="0.85" fill="#ff6a6a" stroke="#ff1010" stroke-width="1.2"/>
<circle cx="149.5" cy="260.3" r="0.85" fill="#ff6a6a" stroke="#ff1010" stroke-width="1.2"/>
<circle cx="163.2" cy="260.4" r="0.85" fill="#ff6a6a" stroke="#ff1010" stroke-width="1.2"/>
<circle cx="167.5" cy="259.5" r="0.85" fill="#ff6a6a" stroke="#ff1010" stroke-width="1.2"/>
<circle cx="186" cy="262.1" r="0.85" fill="#ff6a6a" stroke="#ff1010" stroke-width="1.2"/>
<circle cx="186" cy="264" r="0.85" fill="#ff6a6a" stroke="#ff1010" stroke-width="1.2"/>
<circle cx="186" cy="266" r="0.85" fill="#ff6a6a" stroke="#ff1010" stroke-width="1.2"/>
<circle cx="186" cy="267.8" r="0.85" fill="#ff6a6a" stroke="#ff1010" stroke-width="1.2"/>
<circle cx="195.1" cy="267.1" r="0.85" fill="#ff6a6a" stroke="#ff1010" stroke-width="1.2"/>
<circle cx="158.4" cy="267.1" r="0.85" fill="#ff6a6a" stroke="#ff1010" stroke-width="1.2"/>
<circle cx="140" cy="269" r="0.85" fill="#ff6a6a" stroke="#ff1010" stroke-width="1.2"/>
<circle cx="144.7" cy="269.7" r="0.85" fill="#ff6a6a" stroke="#ff1010" stroke-width="1.2"/>
<circle cx="149.5" cy="269" r="0.85" fill="#ff6a6a" stroke="#ff1010" stroke-width="1.2"/>
<circle cx="172.3" cy="269" r="0.85" fill="#ff6a6a" stroke="#ff1010" stroke-width="1.2"/>
<circle cx="172.3" cy="270.3" r="0.85" fill="#ff6a6a" stroke="#ff1010" stroke-width="1.2"/>
<circle cx="177" cy="268.4" r="0.85" fill="#ff6a6a" stroke="#ff1010" stroke-width="1.2"/>
<circle cx="140" cy="271.6" r="0.85" fill="#ff6a6a" stroke="#ff1010" stroke-width="1.2"/>
<circle cx="172.3" cy="274.1" r="0.85" fill="#ff6a6a" stroke="#ff1010" stroke-width="1.2"/>
<circle cx="186" cy="274.1" r="0.85" fill="#ff6a6a" stroke="#ff1010" stroke-width="1.2"/>
<circle cx="186" cy="277.9" r="0.85" fill="#ff6a6a" stroke="#ff1010" stroke-width="1.2"/>
<circle cx="186" cy="280.4" r="0.85" fill="#ff6a6a" stroke="#ff1010" stroke-width="1.2"/>
<circle cx="144.7" cy="276.6" r="0.85" fill="#ff6a6a" stroke="#ff1010" stroke-width="1.2"/>
<circle cx="149.5" cy="276.6" r="0.85" fill="#ff6a6a" stroke="#ff1010" stroke-width="1.2"/>
<circle cx="158.4" cy="275.1" r="0.85" fill="#ff6a6a" stroke="#ff1010" stroke-width="1.2"/>
<circle cx="181.4" cy="281.7" r="0.85" fill="#ff6a6a" stroke="#ff1010" stroke-width="1.2"/>
<circle cx="177" cy="284.2" r="0.85" fill="#ff6a6a" stroke="#ff1010" stroke-width="1.2"/>
<circle cx="195.1" cy="277" r="0.85" fill="#ff6a6a" stroke="#ff1010" stroke-width="1.2"/>
<circle cx="198.9" cy="270.9" r="0.85" fill="#ff6a6a" stroke="#ff1010" stroke-width="1.2"/>
<circle cx="144.7" cy="287.4" r="0.85" fill="#ff6a6a" stroke="#ff1010" stroke-width="1.2"/>
<circle cx="199.7" cy="239.4" r="0.85" fill="#ff6a6a" stroke="#ff1010" stroke-width="1.2"/>
<circle cx="204.5" cy="238.1" r="0.85" fill="#ff6a6a" stroke="#ff1010" stroke-width="1.2"/>
<circle cx="241.4" cy="243.7" r="0.85" fill="#ff6a6a" stroke="#ff1010" stroke-width="1.2"/>
<circle cx="255.3" cy="247" r="0.85" fill="#ff6a6a" stroke="#ff1010" stroke-width="1.2"/>
<circle cx="259.8" cy="248.3" r="0.85" fill="#ff6a6a" stroke="#ff1010" stroke-width="1.2"/>
<circle cx="264.6" cy="245.1" r="0.85" fill="#ff6a6a" stroke="#ff1010" stroke-width="1.2"/>
<circle cx="223.1" cy="253.6" r="0.85" fill="#ff6a6a" stroke="#ff1010" stroke-width="1.2"/>
<circle cx="204.5" cy="256.4" r="0.85" fill="#ff6a6a" stroke="#ff1010" stroke-width="1.2"/>
<circle cx="232" cy="257.4" r="0.85" fill="#ff6a6a" stroke="#ff1010" stroke-width="1.2"/>
<circle cx="209.2" cy="261.8" r="0.85" fill="#ff6a6a" stroke="#ff1010" stroke-width="1.2"/>
<circle cx="232" cy="262.1" r="0.85" fill="#ff6a6a" stroke="#ff1010" stroke-width="1.2"/>
<circle cx="199.7" cy="269.7" r="0.85" fill="#ff6a6a" stroke="#ff1010" stroke-width="1.2"/>
<circle cx="199.7" cy="271" r="0.85" fill="#ff6a6a" stroke="#ff1010" stroke-width="1.2"/>
<circle cx="209.2" cy="273.5" r="0.85" fill="#ff6a6a" stroke="#ff1010" stroke-width="1.2"/>
<circle cx="232" cy="272.9" r="0.85" fill="#ff6a6a" stroke="#ff1010" stroke-width="1.2"/>
<circle cx="199.7" cy="277.3" r="0.85" fill="#ff6a6a" stroke="#ff1010" stroke-width="1.2"/>
<circle cx="144.7" cy="282.8" r="0.85" fill="#ff6a6a" stroke="#ff1010" stroke-width="1.2"/>
<circle cx="144.7" cy="304.6" r="0.85" fill="#ff6a6a" stroke="#ff1010" stroke-width="1.2"/>
<circle cx="117" cy="296.5" r="0.85" fill="#ff6a6a" stroke="#ff1010" stroke-width="1.2"/>
<circle cx="117" cy="298.3" r="0.85" fill="#ff6a6a" stroke="#ff1010" stroke-width="1.2"/>
<circle cx="117" cy="305.1" r="0.85" fill="#ff6a6a" stroke="#ff1010" stroke-width="1.2"/>
<circle cx="117" cy="313.2" r="0.85" fill="#ff6a6a" stroke="#ff1010" stroke-width="1.2"/>
<circle cx="135.6" cy="233.7" r="0.85" fill="#ff6a6a" stroke="#ff1010" stroke-width="1.2"/>
<circle cx="126.3" cy="242.2" r="0.85" fill="#ff6a6a" stroke="#ff1010" stroke-width="1.2"/>
<circle cx="158.4" cy="238.4" r="0.85" fill="#ff6a6a" stroke="#ff1010" stroke-width="1.2"/>
<circle cx="199" cy="239.2" r="0.85" fill="#ff6a6a" stroke="#ff1010" stroke-width="1.2"/>
<circle cx="195.3" cy="242.9" r="0.85" fill="#ff6a6a" stroke="#ff1010" stroke-width="1.2"/>
<line x1="34.5" y1="345.8" x2="305" y2="190.5" stroke="#1a96fa" stroke-width="2" stroke-dasharray="2 1.75" stroke-dashoffset="1.5"/>
<line x1="34.5" y1="335.9" x2="305" y2="195.9" stroke="#000" stroke-width="1.8"/>
<line x1="102.1" y1="190.5" x2="102.1" y2="192.7" stroke="#222" stroke-width="1.1"/>
<line x1="102.1" y1="345.8" x2="102.1" y2="343.6" stroke="#222" stroke-width="1.1"/>
<line x1="169.75" y1="190.5" x2="169.75" y2="192.7" stroke="#222" stroke-width="1.1"/>
<line x1="169.75" y1="345.8" x2="169.75" y2="343.6" stroke="#222" stroke-width="1.1"/>
<line x1="237.4" y1="190.5" x2="237.4" y2="192.7" stroke="#222" stroke-width="1.1"/>
<line x1="237.4" y1="345.8" x2="237.4" y2="343.6" stroke="#222" stroke-width="1.1"/>
<line x1="34.5" y1="229.4" x2="36.7" y2="229.4" stroke="#222" stroke-width="1.1"/>
<line x1="305" y1="229.4" x2="302.8" y2="229.4" stroke="#222" stroke-width="1.1"/>
<line x1="34.5" y1="268.2" x2="36.7" y2="268.2" stroke="#222" stroke-width="1.1"/>
<line x1="305" y1="268.2" x2="302.8" y2="268.2" stroke="#222" stroke-width="1.1"/>
<line x1="34.5" y1="307" x2="36.7" y2="307" stroke="#222" stroke-width="1.1"/>
<line x1="305" y1="307" x2="302.8" y2="307" stroke="#222" stroke-width="1.1"/>
<rect x="34.5" y="190.5" width="270.5" height="155.3" fill="none" stroke="#262626" stroke-width="1.6"/>
<text x="0" y="195.3" class="t">d</text>
<text x="32.3" y="193.8" class="t" text-anchor="end">2</text>
<text x="29" y="271.5" class="t" text-anchor="end">1</text>
<text x="32.8" y="349.2" class="t" text-anchor="end">0</text>
<text x="34.5" y="357" class="t" text-anchor="middle">0</text>
<text x="168.5" y="356.2" class="t" text-anchor="middle">1</text>
<text x="304.3" y="357" class="t" text-anchor="middle">2</text>
<text x="66.8" y="204.5" class="t">y = 0.90x + 0.13</text>
<text x="66.8" y="217.5" class="t">r² = 0.75</text>
<text x="66.8" y="229.7" class="t">RMSE = 0.24</text>
<text x="66.8" y="242.7" class="t">n = 139</text>
<text x="169.4" y="366.1" class="t" text-anchor="middle" style="font-size:10.6px">Sweat Rate(µL/cm²/min)</text>
<text transform="translate(16.4 268.6) rotate(-90)" class="t" text-anchor="middle" style="font-size:10.6px">Sweat Rate(µL/cm²/min)</text>
<circle cx="400.3" cy="233.3" r="0.85" fill="#ff6a6a" stroke="#ff1010" stroke-width="1.2"/>
<circle cx="384" cy="241.1" r="0.85" fill="#ff6a6a" stroke="#ff1010" stroke-width="1.2"/>
<circle cx="377.2" cy="248.7" r="0.85" fill="#ff6a6a" stroke="#ff1010" stroke-width="1.2"/>
<circle cx="378" cy="247.9" r="0.85" fill="#ff6a6a" stroke="#ff1010" stroke-width="1.2"/>
<circle cx="365.3" cy="257.3" r="0.85" fill="#ff6a6a" stroke="#ff1010" stroke-width="1.2"/>
<circle cx="364.2" cy="258.5" r="0.85" fill="#ff6a6a" stroke="#ff1010" stroke-width="1.2"/>
<circle cx="383.2" cy="257.6" r="0.85" fill="#ff6a6a" stroke="#ff1010" stroke-width="1.2"/>
<circle cx="382.1" cy="258.9" r="0.85" fill="#ff6a6a" stroke="#ff1010" stroke-width="1.2"/>
<circle cx="397" cy="258" r="0.85" fill="#ff6a6a" stroke="#ff1010" stroke-width="1.2"/>
<circle cx="362.1" cy="260.9" r="0.85" fill="#ff6a6a" stroke="#ff1010" stroke-width="1.2"/>
<circle cx="366.6" cy="261.2" r="0.85" fill="#ff6a6a" stroke="#ff1010" stroke-width="1.2"/>
<circle cx="376.7" cy="259.6" r="0.85" fill="#ff6a6a" stroke="#ff1010" stroke-width="1.2"/>
<circle cx="375.9" cy="260.9" r="0.85" fill="#ff6a6a" stroke="#ff1010" stroke-width="1.2"/>
<circle cx="387" cy="258.9" r="0.85" fill="#ff6a6a" stroke="#ff1010" stroke-width="1.2"/>
<circle cx="391.3" cy="258.5" r="0.85" fill="#ff6a6a" stroke="#ff1010" stroke-width="1.2"/>
<circle cx="389.7" cy="260.9" r="0.85" fill="#ff6a6a" stroke="#ff1010" stroke-width="1.2"/>
<circle cx="393.5" cy="261.7" r="0.85" fill="#ff6a6a" stroke="#ff1010" stroke-width="1.2"/>
<circle cx="359.6" cy="263.8" r="0.85" fill="#ff6a6a" stroke="#ff1010" stroke-width="1.2"/>
<circle cx="363.7" cy="264.5" r="0.85" fill="#ff6a6a" stroke="#ff1010" stroke-width="1.2"/>
<circle cx="367.4" cy="265.4" r="0.85" fill="#ff6a6a" stroke="#ff1010" stroke-width="1.2"/>
<circle cx="386.5" cy="264.5" r="0.85" fill="#ff6a6a" stroke="#ff1010" stroke-width="1.2"/>
<circle cx="385.7" cy="265.4" r="0.85" fill="#ff6a6a" stroke="#ff1010" stroke-width="1.2"/>
<circle cx="391.3" cy="264.5" r="0.85" fill="#ff6a6a" stroke="#ff1010" stroke-width="1.2"/>
<circle cx="348.6" cy="265" r="0.85" fill="#ff6a6a" stroke="#ff1010" stroke-width="1.2"/>
<circle cx="347.9" cy="266.6" r="0.85" fill="#ff6a6a" stroke="#ff1010" stroke-width="1.2"/>
<circle cx="349.9" cy="267.7" r="0.85" fill="#ff6a6a" stroke="#ff1010" stroke-width="1.2"/>
<circle cx="351.2" cy="269" r="0.85" fill="#ff6a6a" stroke="#ff1010" stroke-width="1.2"/>
<circle cx="355.6" cy="268.2" r="0.85" fill="#ff6a6a" stroke="#ff1010" stroke-width="1.2"/>
<circle cx="361.3" cy="267.4" r="0.85" fill="#ff6a6a" stroke="#ff1010" stroke-width="1.2"/>
<circle cx="377.5" cy="269.8" r="0.85" fill="#ff6a6a" stroke="#ff1010" stroke-width="1.2"/>
<circle cx="387.3" cy="269" r="0.85" fill="#ff6a6a" stroke="#ff1010" stroke-width="1.2"/>
<circle cx="392.2" cy="268.5" r="0.85" fill="#ff6a6a" stroke="#ff1010" stroke-width="1.2"/>
<circle cx="353.1" cy="270.7" r="0.85" fill="#ff6a6a" stroke="#ff1010" stroke-width="1.2"/>
<circle cx="355.6" cy="273.9" r="0.85" fill="#ff6a6a" stroke="#ff1010" stroke-width="1.2"/>
<circle cx="360.4" cy="273.1" r="0.85" fill="#ff6a6a" stroke="#ff1010" stroke-width="1.2"/>
<circle cx="359.6" cy="274.7" r="0.85" fill="#ff6a6a" stroke="#ff1010" stroke-width="1.2"/>
<circle cx="358.8" cy="275.9" r="0.85" fill="#ff6a6a" stroke="#ff1010" stroke-width="1.2"/>
<circle cx="358" cy="277.2" r="0.85" fill="#ff6a6a" stroke="#ff1010" stroke-width="1.2"/>
<circle cx="357.2" cy="276.3" r="0.85" fill="#ff6a6a" stroke="#ff1010" stroke-width="1.2"/>
<circle cx="361.3" cy="276.8" r="0.85" fill="#ff6a6a" stroke="#ff1010" stroke-width="1.2"/>
<circle cx="360.4" cy="278" r="0.85" fill="#ff6a6a" stroke="#ff1010" stroke-width="1.2"/>
<circle cx="359.6" cy="279.1" r="0.85" fill="#ff6a6a" stroke="#ff1010" stroke-width="1.2"/>
<circle cx="358.8" cy="280.4" r="0.85" fill="#ff6a6a" stroke="#ff1010" stroke-width="1.2"/>
<circle cx="361.3" cy="278.5" r="0.85" fill="#ff6a6a" stroke="#ff1010" stroke-width="1.2"/>
<circle cx="431.2" cy="218" r="0.85" fill="#ff6a6a" stroke="#ff1010" stroke-width="1.2"/>
<circle cx="445.1" cy="223.4" r="0.85" fill="#ff6a6a" stroke="#ff1010" stroke-width="1.2"/>
<circle cx="452.4" cy="230.7" r="0.85" fill="#ff6a6a" stroke="#ff1010" stroke-width="1.2"/>
<circle cx="447.6" cy="241.7" r="0.85" fill="#ff6a6a" stroke="#ff1010" stroke-width="1.2"/>
<circle cx="440.2" cy="244.1" r="0.85" fill="#ff6a6a" stroke="#ff1010" stroke-width="1.2"/>
<circle cx="423.9" cy="247.8" r="0.85" fill="#ff6a6a" stroke="#ff1010" stroke-width="1.2"/>
<circle cx="435.4" cy="250.2" r="0.85" fill="#ff6a6a" stroke="#ff1010" stroke-width="1.2"/>
<circle cx="439.5" cy="250.2" r="0.85" fill="#ff6a6a" stroke="#ff1010" stroke-width="1.2"/>
<circle cx="431.7" cy="254.4" r="0.85" fill="#ff6a6a" stroke="#ff1010" stroke-width="1.2"/>
<circle cx="433.7" cy="258.3" r="0.85" fill="#ff6a6a" stroke="#ff1010" stroke-width="1.2"/>
<circle cx="430.5" cy="261.2" r="0.85" fill="#ff6a6a" stroke="#ff1010" stroke-width="1.2"/>
<circle cx="434.1" cy="262" r="0.85" fill="#ff6a6a" stroke="#ff1010" stroke-width="1.2"/>
<circle cx="431.7" cy="264.9" r="0.85" fill="#ff6a6a" stroke="#ff1010" stroke-width="1.2"/>
<circle cx="429.3" cy="267.3" r="0.85" fill="#ff6a6a" stroke="#ff1010" stroke-width="1.2"/>
<circle cx="456.6" cy="267.3" r="0.85" fill="#ff6a6a" stroke="#ff1010" stroke-width="1.2"/>
<circle cx="424.4" cy="273.9" r="0.85" fill="#ff6a6a" stroke="#ff1010" stroke-width="1.2"/>
<circle cx="442.7" cy="273.4" r="0.85" fill="#ff6a6a" stroke="#ff1010" stroke-width="1.2"/>
<circle cx="452.4" cy="272.9" r="0.85" fill="#ff6a6a" stroke="#ff1010" stroke-width="1.2"/>
<circle cx="417.6" cy="282" r="0.85" fill="#ff6a6a" stroke="#ff1010" stroke-width="1.2"/>
<circle cx="438.5" cy="289.3" r="0.85" fill="#ff6a6a" stroke="#ff1010" stroke-width="1.2"/>
<circle cx="460.5" cy="251.5" r="0.85" fill="#ff6a6a" stroke="#ff1010" stroke-width="1.2"/>
<circle cx="462.9" cy="249" r="0.85" fill="#ff6a6a" stroke="#ff1010" stroke-width="1.2"/>
<circle cx="464.6" cy="247.8" r="0.85" fill="#ff6a6a" stroke="#ff1010" stroke-width="1.2"/>
<circle cx="466.3" cy="246.6" r="0.85" fill="#ff6a6a" stroke="#ff1010" stroke-width="1.2"/>
<circle cx="463.9" cy="254.4" r="0.85" fill="#ff6a6a" stroke="#ff1010" stroke-width="1.2"/>
<circle cx="467.1" cy="252" r="0.85" fill="#ff6a6a" stroke="#ff1010" stroke-width="1.2"/>
<circle cx="468.8" cy="254.4" r="0.85" fill="#ff6a6a" stroke="#ff1010" stroke-width="1.2"/>
<circle cx="462.2" cy="261.2" r="0.85" fill="#ff6a6a" stroke="#ff1010" stroke-width="1.2"/>
<circle cx="464.6" cy="263.7" r="0.85" fill="#ff6a6a" stroke="#ff1010" stroke-width="1.2"/>
<circle cx="469.5" cy="267.3" r="0.85" fill="#ff6a6a" stroke="#ff1010" stroke-width="1.2"/>
<circle cx="494.8" cy="213.7" r="0.85" fill="#ff6a6a" stroke="#ff1010" stroke-width="1.2"/>
<circle cx="482.6" cy="216.8" r="0.85" fill="#ff6a6a" stroke="#ff1010" stroke-width="1.2"/>
<circle cx="487.4" cy="222.2" r="0.85" fill="#ff6a6a" stroke="#ff1010" stroke-width="1.2"/>
<circle cx="508.9" cy="223.4" r="0.85" fill="#ff6a6a" stroke="#ff1010" stroke-width="1.2"/>
<circle cx="510.1" cy="222.2" r="0.85" fill="#ff6a6a" stroke="#ff1010" stroke-width="1.2"/>
<circle cx="515" cy="221.7" r="0.85" fill="#ff6a6a" stroke="#ff1010" stroke-width="1.2"/>
<circle cx="519.1" cy="222.2" r="0.85" fill="#ff6a6a" stroke="#ff1010" stroke-width="1.2"/>
<circle cx="501.6" cy="231.5" r="0.85" fill="#ff6a6a" stroke="#ff1010" stroke-width="1.2"/>
<circle cx="499.6" cy="234.4" r="0.85" fill="#ff6a6a" stroke="#ff1010" stroke-width="1.2"/>
<circle cx="489.4" cy="240.5" r="0.85" fill="#ff6a6a" stroke="#ff1010" stroke-width="1.2"/>
<circle cx="521.6" cy="241.2" r="0.85" fill="#ff6a6a" stroke="#ff1010" stroke-width="1.2"/>
<circle cx="531.3" cy="239.8" r="0.85" fill="#ff6a6a" stroke="#ff1010" stroke-width="1.2"/>
<circle cx="478.4" cy="242.9" r="0.85" fill="#ff6a6a" stroke="#ff1010" stroke-width="1.2"/>
<circle cx="478.4" cy="247.8" r="0.85" fill="#ff6a6a" stroke="#ff1010" stroke-width="1.2"/>
<circle cx="486.5" cy="248.5" r="0.85" fill="#ff6a6a" stroke="#ff1010" stroke-width="1.2"/>
<circle cx="488.2" cy="247.8" r="0.85" fill="#ff6a6a" stroke="#ff1010" stroke-width="1.2"/>
<circle cx="491.3" cy="247.8" r="0.85" fill="#ff6a6a" stroke="#ff1010" stroke-width="1.2"/>
<circle cx="492.3" cy="247.1" r="0.85" fill="#ff6a6a" stroke="#ff1010" stroke-width="1.2"/>
<circle cx="497.2" cy="247.1" r="0.85" fill="#ff6a6a" stroke="#ff1010" stroke-width="1.2"/>
<circle cx="498.7" cy="246.1" r="0.85" fill="#ff6a6a" stroke="#ff1010" stroke-width="1.2"/>
<circle cx="468.7" cy="253.9" r="0.85" fill="#ff6a6a" stroke="#ff1010" stroke-width="1.2"/>
<circle cx="471.1" cy="255.9" r="0.85" fill="#ff6a6a" stroke="#ff1010" stroke-width="1.2"/>
<circle cx="485" cy="255.9" r="0.85" fill="#ff6a6a" stroke="#ff1010" stroke-width="1.2"/>
<circle cx="488.2" cy="257.6" r="0.85" fill="#ff6a6a" stroke="#ff1010" stroke-width="1.2"/>
<circle cx="507" cy="257.1" r="0.85" fill="#ff6a6a" stroke="#ff1010" stroke-width="1.2"/>
<circle cx="515.7" cy="257.6" r="0.85" fill="#ff6a6a" stroke="#ff1010" stroke-width="1.2"/>
<circle cx="521.6" cy="255.9" r="0.85" fill="#ff6a6a" stroke="#ff1010" stroke-width="1.2"/>
<circle cx="524.8" cy="257.6" r="0.85" fill="#ff6a6a" stroke="#ff1010" stroke-width="1.2"/>
<circle cx="477.7" cy="260" r="0.85" fill="#ff6a6a" stroke="#ff1010" stroke-width="1.2"/>
<circle cx="471.1" cy="267.3" r="0.85" fill="#ff6a6a" stroke="#ff1010" stroke-width="1.2"/>
<circle cx="481.6" cy="269.8" r="0.85" fill="#ff6a6a" stroke="#ff1010" stroke-width="1.2"/>
<circle cx="485" cy="271.5" r="0.85" fill="#ff6a6a" stroke="#ff1010" stroke-width="1.2"/>
<circle cx="482.6" cy="271" r="0.85" fill="#ff6a6a" stroke="#ff1010" stroke-width="1.2"/>
<circle cx="494.8" cy="271" r="0.85" fill="#ff6a6a" stroke="#ff1010" stroke-width="1.2"/>
<circle cx="493" cy="272.9" r="0.85" fill="#ff6a6a" stroke="#ff1010" stroke-width="1.2"/>
<circle cx="491.3" cy="274.6" r="0.85" fill="#ff6a6a" stroke="#ff1010" stroke-width="1.2"/>
<circle cx="489.9" cy="276.3" r="0.85" fill="#ff6a6a" stroke="#ff1010" stroke-width="1.2"/>
<circle cx="478.4" cy="274.6" r="0.85" fill="#ff6a6a" stroke="#ff1010" stroke-width="1.2"/>
<circle cx="509.4" cy="275.9" r="0.85" fill="#ff6a6a" stroke="#ff1010" stroke-width="1.2"/>
<circle cx="495.5" cy="281.2" r="0.85" fill="#ff6a6a" stroke="#ff1010" stroke-width="1.2"/>
<circle cx="485.7" cy="282" r="0.85" fill="#ff6a6a" stroke="#ff1010" stroke-width="1.2"/>
<circle cx="484.5" cy="283.2" r="0.85" fill="#ff6a6a" stroke="#ff1010" stroke-width="1.2"/>
<circle cx="507" cy="283.7" r="0.85" fill="#ff6a6a" stroke="#ff1010" stroke-width="1.2"/>
<circle cx="521.1" cy="283.2" r="0.85" fill="#ff6a6a" stroke="#ff1010" stroke-width="1.2"/>
<circle cx="472.3" cy="287.6" r="0.85" fill="#ff6a6a" stroke="#ff1010" stroke-width="1.2"/>
<circle cx="476" cy="288" r="0.85" fill="#ff6a6a" stroke="#ff1010" stroke-width="1.2"/>
<circle cx="479.6" cy="289.3" r="0.85" fill="#ff6a6a" stroke="#ff1010" stroke-width="1.2"/>
<circle cx="481.6" cy="287.6" r="0.85" fill="#ff6a6a" stroke="#ff1010" stroke-width="1.2"/>
<circle cx="494.8" cy="286.8" r="0.85" fill="#ff6a6a" stroke="#ff1010" stroke-width="1.2"/>
<circle cx="495.5" cy="285.6" r="0.85" fill="#ff6a6a" stroke="#ff1010" stroke-width="1.2"/>
<circle cx="522.3" cy="292.4" r="0.85" fill="#ff6a6a" stroke="#ff1010" stroke-width="1.2"/>
<circle cx="488.9" cy="294.1" r="0.85" fill="#ff6a6a" stroke="#ff1010" stroke-width="1.2"/>
<circle cx="496.7" cy="295.4" r="0.85" fill="#ff6a6a" stroke="#ff1010" stroke-width="1.2"/>
<circle cx="518.2" cy="296.6" r="0.85" fill="#ff6a6a" stroke="#ff1010" stroke-width="1.2"/>
<circle cx="538.9" cy="283.8" r="0.85" fill="#ff6a6a" stroke="#ff1010" stroke-width="1.2"/>
<circle cx="542.7" cy="295.5" r="0.85" fill="#ff6a6a" stroke="#ff1010" stroke-width="1.2"/>
<circle cx="544.3" cy="298.7" r="0.85" fill="#ff6a6a" stroke="#ff1010" stroke-width="1.2"/>
<circle cx="548.9" cy="298.2" r="0.85" fill="#ff6a6a" stroke="#ff1010" stroke-width="1.2"/>
<circle cx="509.5" cy="275.4" r="0.85" fill="#ff6a6a" stroke="#ff1010" stroke-width="1.2"/>
<circle cx="509.5" cy="307.8" r="0.85" fill="#ff6a6a" stroke="#ff1010" stroke-width="1.2"/>
<circle cx="423.8" cy="274" r="0.85" fill="#ff6a6a" stroke="#ff1010" stroke-width="1.2"/>
<circle cx="437.8" cy="289.3" r="0.85" fill="#ff6a6a" stroke="#ff1010" stroke-width="1.2"/>
<circle cx="442.6" cy="273.2" r="0.85" fill="#ff6a6a" stroke="#ff1010" stroke-width="1.2"/>
<circle cx="452.8" cy="272.7" r="0.85" fill="#ff6a6a" stroke="#ff1010" stroke-width="1.2"/>
<circle cx="471.6" cy="286.6" r="0.85" fill="#ff6a6a" stroke="#ff1010" stroke-width="1.2"/>
<circle cx="478.8" cy="274" r="0.85" fill="#ff6a6a" stroke="#ff1010" stroke-width="1.2"/>
<circle cx="484.2" cy="282.1" r="0.85" fill="#ff6a6a" stroke="#ff1010" stroke-width="1.2"/>
<circle cx="488.2" cy="294.7" r="0.85" fill="#ff6a6a" stroke="#ff1010" stroke-width="1.2"/>
<circle cx="494.1" cy="287.4" r="0.85" fill="#ff6a6a" stroke="#ff1010" stroke-width="1.2"/>
<circle cx="496.2" cy="295.5" r="0.85" fill="#ff6a6a" stroke="#ff1010" stroke-width="1.2"/>
<line x1="348" y1="225.7" x2="617" y2="225.7" stroke="#1a96fa" stroke-width="2" stroke-dasharray="2 1.75" stroke-dashoffset="1.5"/>
<line x1="348" y1="299.5" x2="617" y2="299.5" stroke="#1a96fa" stroke-width="2" stroke-dasharray="2 1.75" stroke-dashoffset="1.5"/>
<line x1="348" y1="262.7" x2="617" y2="262.7" stroke="#000" stroke-width="1.8"/>
<line x1="415.25" y1="190.2" x2="415.25" y2="192.39999999999998" stroke="#222" stroke-width="1.1"/>
<line x1="415.25" y1="344.9" x2="415.25" y2="342.7" stroke="#222" stroke-width="1.1"/>
<line x1="482.5" y1="190.2" x2="482.5" y2="192.39999999999998" stroke="#222" stroke-width="1.1"/>
<line x1="482.5" y1="344.9" x2="482.5" y2="342.7" stroke="#222" stroke-width="1.1"/>
<line x1="549.75" y1="190.2" x2="549.75" y2="192.39999999999998" stroke="#222" stroke-width="1.1"/>
<line x1="549.75" y1="344.9" x2="549.75" y2="342.7" stroke="#222" stroke-width="1.1"/>
<line x1="348" y1="228.9" x2="350.2" y2="228.9" stroke="#222" stroke-width="1.1"/>
<line x1="617" y1="228.9" x2="614.8" y2="228.9" stroke="#222" stroke-width="1.1"/>
<line x1="348" y1="267.55" x2="350.2" y2="267.55" stroke="#222" stroke-width="1.1"/>
<line x1="617" y1="267.55" x2="614.8" y2="267.55" stroke="#222" stroke-width="1.1"/>
<line x1="348" y1="306.2" x2="350.2" y2="306.2" stroke="#222" stroke-width="1.1"/>
<line x1="617" y1="306.2" x2="614.8" y2="306.2" stroke="#222" stroke-width="1.1"/>
<rect x="348" y="190.2" width="269" height="154.7" fill="none" stroke="#262626" stroke-width="1.6"/>
<text x="345.5" y="194" class="t" text-anchor="end">1</text>
<text x="345.5" y="266.5" class="t" text-anchor="end">0</text>
<text x="345.5" y="348.1" class="t" text-anchor="end">-1</text>
<text x="348.3" y="357" class="t" text-anchor="middle">0</text>
<text x="481" y="356.4" class="t" text-anchor="middle">1</text>
<text x="616" y="357" class="t" text-anchor="middle">2</text>
<text x="513.6" y="204.8" class="t">RPC: 0.48 (130%)</text>
<text x="513.6" y="217" class="t">CV = 35%</text>
<text x="618.9" y="226.9" class="t">.54 (+1.96SD)</text>
<text x="618.7" y="265" class="t" style="font-size:10.5px">.061 (p=0.01)</text>
<text x="618.5" y="301.6" class="t">-.41 (-1.96SD)</text>
<text x="481.9" y="366.1" class="t" text-anchor="middle" style="font-size:10.5px">Mean Sweat Rate (µL/cm²/min)</text>
<text transform="translate(329.4 268.9) rotate(-90)" class="t" text-anchor="middle" style="font-size:10.55px">ΔSweat Rate (µL/cm²/min)</text>
</svg>
</body></html>
